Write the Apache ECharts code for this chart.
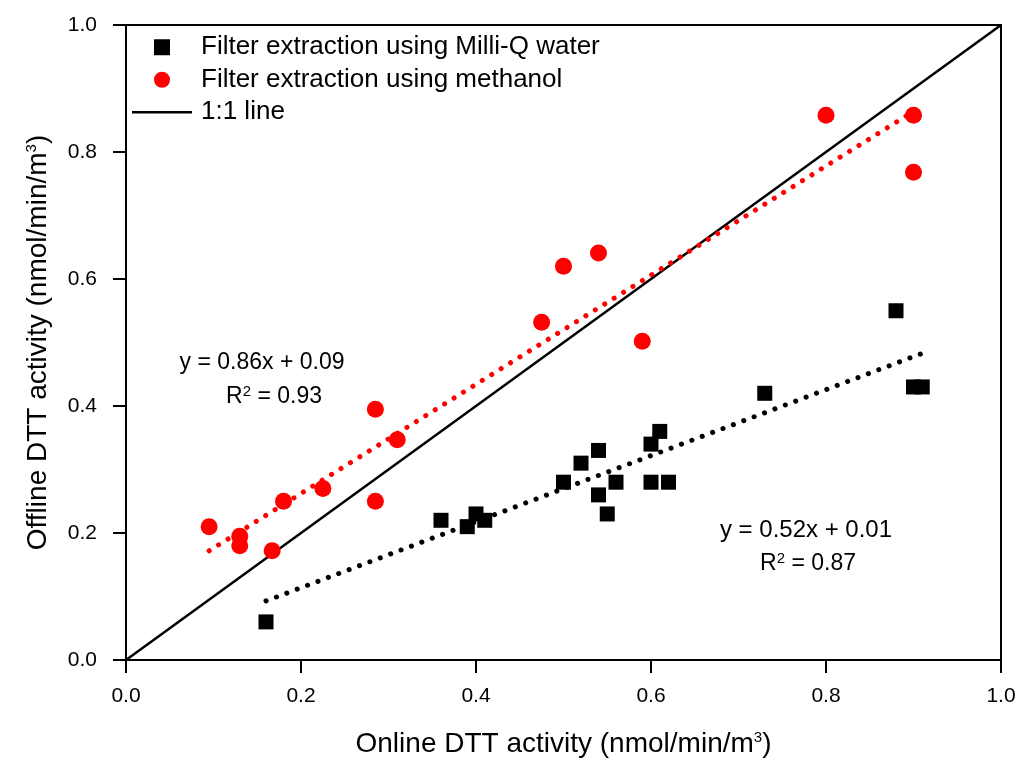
<!DOCTYPE html>
<html>
<head>
<meta charset="utf-8">
<script src="https://cdn.jsdelivr.net/npm/echarts@6/dist/echarts.min.js"></script>
<style>
  html, body { margin: 0; padding: 0; background: #fff; }
  #chart { width: 1020px; height: 763px; }
</style>
</head>
<body>
<div id="chart"></div>
<script>
// Milli-Q water extraction (online, offline)
const waterX = [0.16, 0.36, 0.39, 0.40, 0.41, 0.50, 0.52, 0.54, 0.54, 0.55, 0.56, 0.60, 0.61, 0.60, 0.62, 0.73, 0.88, 0.90, 0.91]
const waterY = [0.06, 0.22, 0.21, 0.23, 0.22, 0.28, 0.31, 0.33, 0.26, 0.23, 0.28, 0.34, 0.36, 0.28, 0.28, 0.42, 0.55, 0.43, 0.43]

// methanol extraction (online, offline)
const methX = [0.095, 0.13, 0.13, 0.167, 0.18, 0.225, 0.285, 0.285, 0.31, 0.475, 0.50, 0.54, 0.59, 0.80, 0.90, 0.90]
const methY = [0.21, 0.195, 0.18, 0.172, 0.25, 0.27, 0.395, 0.25, 0.347, 0.532, 0.62, 0.641, 0.502, 0.858, 0.858, 0.768]

// fit line end points and the 1:1 line
const waterFit = [[0.16, 0.093], [0.91, 0.483]]
const methFit = [[0.095, 0.172], [0.90, 0.864]]
const oneToOne = [[0, 0], [1, 1]]

const ticks = [0, 0.2, 0.4, 0.6, 0.8, 1.0]

const zip = (xs, ys) => xs.map((x, i) => [x, ys[i]])
const font = 'Arial, "Liberation Sans", sans-serif'
const supStyle = { fontSize: 15, verticalAlign: 'top', padding: [0, 0, 12, 0], color: '#000' }
const rSup = { fontSize: 15, verticalAlign: 'top', padding: [0, 0, 10, 0] }

const chart = echarts.init(document.getElementById('chart'))

chart.setOption({
  animation: false,
  backgroundColor: '#fff',
  textStyle: { fontFamily: font },
  grid: {
    left: 126,
    right: 19,
    top: 25,
    bottom: 103,
    show: true,
    borderColor: '#000',
    borderWidth: 2
  },
  legend: {
    orient: 'vertical',
    left: 132,
    top: 33,
    padding: 0,
    itemWidth: 60,
    itemHeight: 16,
    itemGap: 4,
    textStyle: { fontSize: 26, color: '#000', lineHeight: 28.5, fontFamily: font, padding: [0, 0, 0, 4] },
    data: [
      { name: 'Filter extraction using Milli-Q water', icon: 'path://M0,0L1,0L1,1L0,1Z' },
      { name: 'Filter extraction using methanol', icon: 'circle' },
      { name: '1:1 line', icon: 'path://M0,0L60,0L60,2.5L0,2.5Z' }
    ]
  },
  xAxis: {
    type: 'value',
    min: 0,
    max: 1,
    interval: ticks[1] - ticks[0],
    splitLine: { show: false },
    axisLine: { lineStyle: { color: '#000', width: 2 } },
    axisTick: { length: 13, lineStyle: { color: '#000', width: 2 } },
    axisLabel: {
      color: '#000',
      fontSize: 21,
      margin: 26,
      formatter: v => v.toFixed(1)
    },
    name: 'Online DTT activity (nmol/min/m{sup|3})',
    nameLocation: 'middle',
    nameGap: 70,
    nameTextStyle: { fontSize: 28, color: '#000', fontFamily: font, rich: { sup: supStyle } }
  },
  yAxis: {
    type: 'value',
    min: 0,
    max: 1,
    interval: ticks[1] - ticks[0],
    splitLine: { show: false },
    axisLine: { lineStyle: { color: '#000', width: 2 } },
    axisTick: { length: 13, lineStyle: { color: '#000', width: 2 } },
    axisLabel: {
      color: '#000',
      fontSize: 21,
      margin: 29,
      formatter: v => v.toFixed(1)
    },
    name: 'Offline DTT activity (nmol/min/m{sup|3})',
    nameLocation: 'middle',
    nameGap: 74,
    nameTextStyle: { fontSize: 28, color: '#000', fontFamily: font, rich: { sup: supStyle } }
  },
  graphic: [
    {
      type: 'text', x: 262, y: 363,
      style: { text: 'y = 0.86x + 0.09', font: '23px ' + font, fill: '#000', align: 'center', verticalAlign: 'middle' }
    },
    {
      type: 'text', x: 274, y: 397,
      style: {
        text: 'R{sup|2} = 0.93', font: '23px ' + font, fill: '#000', align: 'center', verticalAlign: 'middle',
        rich: { sup: rSup }
      }
    },
    {
      type: 'text', x: 806, y: 530,
      style: { text: 'y = 0.52x + 0.01', font: '24px ' + font, fill: '#000', align: 'center', verticalAlign: 'middle' }
    },
    {
      type: 'text', x: 808, y: 564,
      style: {
        text: 'R{sup|2} = 0.87', font: '23px ' + font, fill: '#000', align: 'center', verticalAlign: 'middle',
        rich: { sup: rSup }
      }
    }
  ],
  series: [
    {
      name: '1:1 line',
      type: 'line',
      data: oneToOne,
      symbol: 'none',
      lineStyle: { color: '#000', width: 2.5 },
      itemStyle: { color: '#000' },
      z: 1
    },
    {
      name: 'water fit',
      type: 'line',
      data: waterFit,
      symbol: 'none',
      lineStyle: { color: '#000', width: 5, type: [0.1, 11], cap: 'round' },
      z: 2
    },
    {
      name: 'methanol fit',
      type: 'line',
      data: methFit,
      symbol: 'none',
      lineStyle: { color: '#ff0000', width: 5, type: [0.1, 11], cap: 'round' },
      z: 2
    },
    {
      name: 'Filter extraction using Milli-Q water',
      type: 'scatter',
      data: zip(waterX, waterY),
      symbol: 'rect',
      symbolSize: 15,
      itemStyle: { color: '#000', opacity: 1 },
      z: 3
    },
    {
      name: 'Filter extraction using methanol',
      type: 'scatter',
      data: zip(methX, methY),
      symbol: 'circle',
      symbolSize: 17,
      itemStyle: { color: '#ff0000', opacity: 1 },
      z: 3
    }
  ]
})
</script>
</body>
</html>
